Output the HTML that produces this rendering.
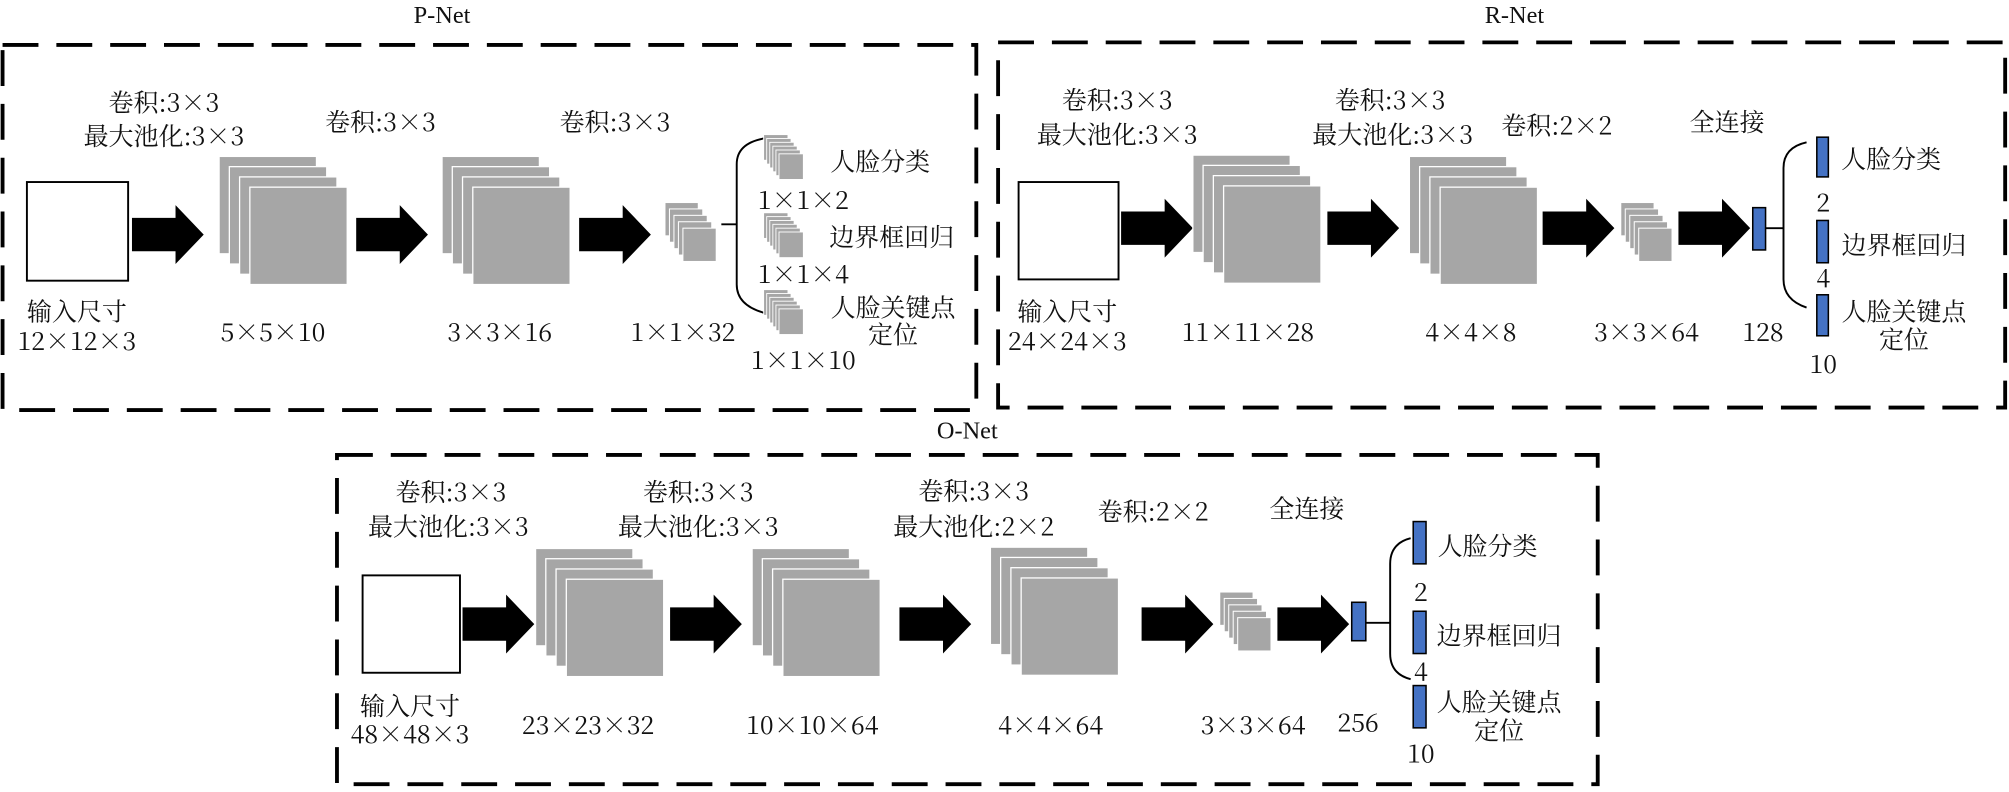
<!DOCTYPE html>
<html><head><meta charset="utf-8"><style>
html,body{margin:0;padding:0;background:#fff;width:2009px;height:792px;overflow:hidden}
svg text{font-family:"Noto Serif CJK SC","Liberation Serif",serif;font-size:19.5px;fill:#111;text-anchor:middle}
svg text.t{font-family:"Liberation Serif",serif;font-size:19px}
</style></head><body>
<svg width="2009" height="792" viewBox="0 0 1568 618" xmlns="http://www.w3.org/2000/svg">
<defs>
<g id="big">
<rect x="0" y="0" width="76" height="76" fill="#a6a6a6" stroke="#fff" stroke-width="1"/>
<rect x="8" y="8" width="76" height="76" fill="#a6a6a6" stroke="#fff" stroke-width="1"/>
<rect x="16" y="16" width="76" height="76" fill="#a6a6a6" stroke="#fff" stroke-width="1"/>
<rect x="24" y="24" width="76" height="76" fill="#a6a6a6" stroke="#fff" stroke-width="1"/>
</g>
<g id="sm">
<rect x="0" y="0" width="26" height="26" fill="#a6a6a6" stroke="#fff" stroke-width="0.8"/>
<rect x="3.5" y="5" width="26" height="26" fill="#a6a6a6" stroke="#fff" stroke-width="0.8"/>
<rect x="7" y="10" width="26" height="26" fill="#a6a6a6" stroke="#fff" stroke-width="0.8"/>
<rect x="10.5" y="15" width="26" height="26" fill="#a6a6a6" stroke="#fff" stroke-width="0.8"/>
<rect x="14" y="20" width="26" height="26" fill="#a6a6a6" stroke="#fff" stroke-width="0.8"/>
</g>
<g id="tiny">
<rect x="0" y="0" width="19" height="20" fill="#a6a6a6" stroke="#fff" stroke-width="0.7"/>
<rect x="2.4" y="3" width="19" height="20" fill="#a6a6a6" stroke="#fff" stroke-width="0.7"/>
<rect x="4.8" y="6" width="19" height="20" fill="#a6a6a6" stroke="#fff" stroke-width="0.7"/>
<rect x="7.2" y="9" width="19" height="20" fill="#a6a6a6" stroke="#fff" stroke-width="0.7"/>
<rect x="9.6" y="12" width="19" height="20" fill="#a6a6a6" stroke="#fff" stroke-width="0.7"/>
<rect x="12" y="15" width="19" height="20" fill="#a6a6a6" stroke="#fff" stroke-width="0.7"/>
</g>
<path id="arr" d="M0,-13 H34 V-23 L56,0 L34,23 V13 H0 Z" fill="#000"/>
</defs>
<g fill="none" stroke="#000" stroke-width="3" stroke-dasharray="28 14">
<rect x="2" y="35" width="760" height="285"/>
<rect x="779" y="33" width="786" height="285"/>
<rect x="263" y="355" width="984" height="257"/>
</g>
<text class="t" x="345" y="18">P-Net</text>
<text class="t" x="1182" y="18">R-Net</text>
<text class="t" x="755" y="342">O-Net</text>

<!-- P-Net -->
<rect x="21" y="142" width="79" height="77" fill="#fff" stroke="#000" stroke-width="1.5"/>
<use href="#arr" x="103" y="183"/>
<use href="#big" x="171" y="122"/>
<use href="#arr" x="278" y="183"/>
<use href="#big" x="345" y="122"/>
<use href="#arr" x="452" y="183"/>
<use href="#sm" x="519" y="158"/>
<path d="M563,175 H575 M596,108 Q575,112 575,128 V222 Q575,238 596,244" fill="none" stroke="#000" stroke-width="1.5"/>
<use href="#tiny" x="596" y="105"/>
<use href="#tiny" x="596" y="166"/>
<use href="#tiny" x="596" y="226"/>
<text x="128" y="87">卷积:3×3</text>
<text x="128" y="113">最大池化:3×3</text>
<text x="297" y="102">卷积:3×3</text>
<text x="480" y="102">卷积:3×3</text>
<text x="60" y="250">输入尺寸</text>
<text x="60" y="273">12×12×3</text>
<text x="213" y="266">5×5×10</text>
<text x="390" y="266">3×3×16</text>
<text x="533" y="266">1×1×32</text>
<text x="687" y="133">人脸分类</text>
<text x="627" y="163">1×1×2</text>
<text x="696" y="192">边界框回归</text>
<text x="627" y="221">1×1×4</text>
<text x="697" y="247">人脸关键点</text>
<text x="697" y="268">定位</text>
<text x="627" y="288">1×1×10</text>

<!-- R-Net -->
<rect x="795" y="142" width="78" height="76" fill="#fff" stroke="#000" stroke-width="1.5"/>
<use href="#arr" x="875" y="178"/>
<use href="#big" x="931" y="121"/>
<use href="#arr" x="1036" y="178"/>
<use href="#big" x="1100" y="122"/>
<use href="#arr" x="1204" y="178"/>
<use href="#sm" x="1265" y="158"/>
<use href="#arr" x="1310" y="178"/>
<rect x="1368" y="162" width="10" height="33" fill="#4472c4" stroke="#000" stroke-width="1.2"/>
<path d="M1378,178 H1392 M1410,111 Q1392,115 1392,131 V218 Q1392,234 1410,240" fill="none" stroke="#000" stroke-width="1.5"/>
<rect x="1418" y="107" width="9" height="31" fill="#4472c4" stroke="#000" stroke-width="1.2"/>
<rect x="1418" y="172" width="9" height="33" fill="#4472c4" stroke="#000" stroke-width="1.2"/>
<rect x="1418" y="230" width="9" height="32" fill="#4472c4" stroke="#000" stroke-width="1.2"/>
<text x="872" y="85">卷积:3×3</text>
<text x="872" y="112">最大池化:3×3</text>
<text x="1085" y="85">卷积:3×3</text>
<text x="1087" y="112">最大池化:3×3</text>
<text x="1215" y="105">卷积:2×2</text>
<text x="1348" y="102">全连接</text>
<text x="833" y="250">输入尺寸</text>
<text x="833" y="273">24×24×3</text>
<text x="974" y="266">11×11×28</text>
<text x="1148" y="266">4×4×8</text>
<text x="1285" y="266">3×3×64</text>
<text x="1376" y="266">128</text>
<text x="1476" y="131">人脸分类</text>
<text x="1423" y="165">2</text>
<text x="1486" y="198">边界框回归</text>
<text x="1423" y="224">4</text>
<text x="1486" y="250">人脸关键点</text>
<text x="1486" y="272">定位</text>
<text x="1423" y="291">10</text>

<!-- O-Net -->
<rect x="283" y="449" width="76" height="76" fill="#fff" stroke="#000" stroke-width="1.5"/>
<use href="#arr" x="361" y="487"/>
<use href="#big" x="418" y="428"/>
<use href="#arr" x="523" y="487"/>
<use href="#big" x="587" y="428"/>
<use href="#arr" x="702" y="487"/>
<use href="#big" x="773" y="427"/>
<use href="#arr" x="891" y="487"/>
<use href="#sm" x="952" y="462"/>
<use href="#arr" x="997" y="487"/>
<rect x="1055" y="470" width="11" height="30" fill="#4472c4" stroke="#000" stroke-width="1.2"/>
<path d="M1066,486 H1085 M1101,420 Q1085,424 1085,440 V510 Q1085,526 1101,530" fill="none" stroke="#000" stroke-width="1.5"/>
<rect x="1103" y="407" width="10" height="33" fill="#4472c4" stroke="#000" stroke-width="1.2"/>
<rect x="1103" y="477" width="10" height="33" fill="#4472c4" stroke="#000" stroke-width="1.2"/>
<rect x="1103" y="535" width="10" height="33" fill="#4472c4" stroke="#000" stroke-width="1.2"/>
<text x="352" y="391">卷积:3×3</text>
<text x="350" y="418">最大池化:3×3</text>
<text x="545" y="391">卷积:3×3</text>
<text x="545" y="418">最大池化:3×3</text>
<text x="760" y="390">卷积:3×3</text>
<text x="760" y="418">最大池化:2×2</text>
<text x="900" y="406">卷积:2×2</text>
<text x="1020" y="404">全连接</text>
<text x="320" y="558">输入尺寸</text>
<text x="320" y="580">48×48×3</text>
<text x="459" y="573">23×23×32</text>
<text x="634" y="573">10×10×64</text>
<text x="820" y="573">4×4×64</text>
<text x="978" y="573">3×3×64</text>
<text x="1060" y="571">256</text>
<text x="1161" y="433">人脸分类</text>
<text x="1109" y="469">2</text>
<text x="1170" y="503">边界框回归</text>
<text x="1109" y="531">4</text>
<text x="1170" y="555">人脸关键点</text>
<text x="1170" y="577">定位</text>
<text x="1109" y="595">10</text>
</svg>
</body></html>
